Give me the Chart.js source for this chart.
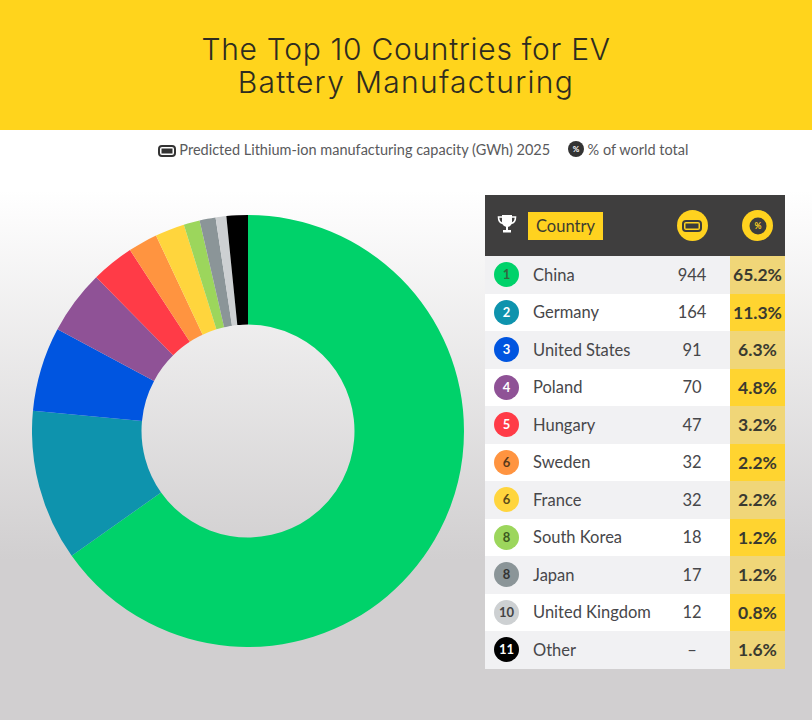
<!DOCTYPE html>
<html>
<head>
<meta charset="utf-8">
<script src="https://cdn.jsdelivr.net/npm/chart.js@4"></script>
<style>
  html, body { margin: 0; padding: 0; }
  body {
    position: relative; width: 812px; height: 720px; overflow: hidden;
    font-family: Lato, "Noto Sans", sans-serif; color: #3c3c3e;
    background: linear-gradient(#fff 0, #fff 190px, #d1cfd0 560px, #d1cfd0 720px);
  }
  .banner {
    position: absolute; left: 0; top: 0; width: 812px; height: 130px; background: #ffd41c;
    text-align: center; font-family: Inter, sans-serif; font-size: 30px; font-weight: 300; line-height: 33px;
    color: #2e2c20; box-sizing: border-box; padding-top: 33px;
  }
  .banner .l1 { letter-spacing: 0.7px; }
  .banner .l2 { letter-spacing: 1.3px; }
  .key {
    position: absolute; top: 141px; left: 17px; width: 812px; text-align: center; font-size: 14.5px;
    line-height: 18px; color: #5a5a5c;
  }
  .key svg { vertical-align: -2px; }
  .key span { margin: 0 7px; }
  #donut { position: absolute; left: 32px; top: 215px; }
  #tbl { position: absolute; left: 485px; top: 195px; width: 300px; border-collapse: collapse; table-layout: fixed; }
  #tbl th { background: #3f3e3e; height: 61px; padding: 0; font-weight: 400; }
  #tbl th.valh { padding-right: 16px; }
  #tbl td { height: 37.5px; padding: 0; font-size: 16.5px; color: #47474a; }
  #tbl tr:nth-child(odd) td { background: #f1f1f3; }
  #tbl tr:nth-child(even) td { background: #fff; }
  #tbl tr:nth-child(odd) td.pct { background: #f0d678; }
  #tbl tr:nth-child(even) td.pct { background: #ffd430; }
  td.rank { text-align: center; }
  .dot {
    display: inline-block; width: 25px; height: 25px; border-radius: 50%; line-height: 25px;
    font-size: 13px; font-weight: 700; text-align: center; vertical-align: middle;
  }
  #tbl td.val { text-align: center; padding-right: 16px; }
  #tbl td.pct { text-align: center; font-weight: 700; font-size: 17.5px; color: #3a3a30; }
  .chip {
    display: inline-block; background: #ffd21f; color: #3c3c30; font-size: 16.5px;
    padding: 0 8px; line-height: 28px; float: left;
  }
  .circ {
    display: inline-flex; width: 31px; height: 31px; border-radius: 50%; background: #ffd21f;
    align-items: center; justify-content: center; vertical-align: middle;
  }
</style>
</head>
<body>
<div class="banner"><span class="l1">The Top 10 Countries for EV</span><br><span class="l2">Battery Manufacturing</span></div>
<div class="key">
  <span><svg width="18" height="12" viewBox="0 0 18 12"><rect x="1" y="1" width="16" height="10" rx="3" fill="none" stroke="#333" stroke-width="2"/><rect x="3.5" y="3.5" width="11" height="5" fill="#333"/></svg> Predicted Lithium-ion manufacturing capacity (GWh) 2025</span>
  <span><svg width="16" height="16" viewBox="0 0 16 16"><circle cx="8" cy="8" r="8" fill="#333"/><text x="8" y="11" font-size="8" font-weight="700" text-anchor="middle" fill="#fff">%</text></svg> % of world total</span>
</div>
<canvas id="donut" width="432" height="432"></canvas>
<table id="tbl"></table>
<script>
const countries = ['China', 'Germany', 'United States', 'Poland', 'Hungary', 'Sweden', 'France', 'South Korea', 'Japan', 'United Kingdom', 'Other'];
const ranks = ['1', '2', '3', '4', '5', '6', '6', '8', '8', '10', '11'];
const capacity = ['944', '164', '91', '70', '47', '32', '32', '18', '17', '12', '–'];
const shares = [65.2, 11.3, 6.3, 4.8, 3.2, 2.2, 2.2, 1.2, 1.2, 0.8, 1.6];
const sliceColors = ['#00d26a', '#0e93ad', '#0055e0', '#8f5296', '#ff3b47', '#ff9440', '#ffd53d', '#9cd65c', '#8b9598', '#cdd0d2', '#000000'];
const rankText = ['#33663f', '#fff', '#fff', '#fff', '#fff', '#5a3a1a', '#5a4a1a', '#3c5a20', '#333', '#444', '#fff'];

new Chart(document.getElementById('donut'), {
  type: 'doughnut',
  data: {
    labels: countries,
    datasets: [{ data: shares, backgroundColor: sliceColors, borderWidth: 0 }],
  },
  options: {
    responsive: false,
    animation: false,
    cutout: '49.3%',
    layout: { padding: 0 },
    plugins: { legend: { display: false }, tooltip: { enabled: false } },
  },
});

const trophy = '<svg width="20" height="20" viewBox="0 0 20 20"><path d="M5 1h10v7a5 5 0 0 1-10 0z" fill="#fff"/><path d="M5 3H1.5c0 4 1.5 6 4.5 6.5M15 3h3.5c0 4-1.5 6-4.5 6.5" fill="none" stroke="#fff" stroke-width="1.6"/><rect x="9" y="12" width="2" height="4" fill="#fff"/><rect x="6" y="16" width="8" height="2.5" fill="#fff"/></svg>';
const battery = '<svg width="20" height="12" viewBox="0 0 20 12"><rect x="1" y="1" width="18" height="10" rx="3" fill="none" stroke="#3c3c3c" stroke-width="2"/><rect x="3.5" y="3.5" width="13" height="5" fill="#3c3c3c"/></svg>';
const badge = '<svg width="18" height="18" viewBox="0 0 18 18"><circle cx="9" cy="9" r="8.5" fill="#3c3c3c"/><text x="9" y="12" font-size="8.5" font-weight="700" text-anchor="middle" fill="#ffd21f">%</text></svg>';

let html = '<colgroup><col style="width:43px"><col style="width:142px"><col style="width:60px"><col style="width:55px"></colgroup>';
html += '<thead><tr><th>' + trophy + '</th><th><span class="chip">Country</span></th>' +
  '<th class="valh"><span class="circ">' + battery + '</span></th><th><span class="circ">' + badge + '</span></th></tr></thead><tbody>';
countries.forEach((name, i) => {
  html += '<tr><td class="rank"><span class="dot" style="background:' + sliceColors[i] + ';color:' + rankText[i] + '">' + ranks[i] + '</span></td>' +
    '<td style="padding-left:5px">' + name + '</td><td class="val">' + capacity[i] + '</td><td class="pct">' + shares[i].toFixed(1) + '%</td></tr>';
});
document.getElementById('tbl').innerHTML = html + '</tbody>';
</script>
</body>
</html>
